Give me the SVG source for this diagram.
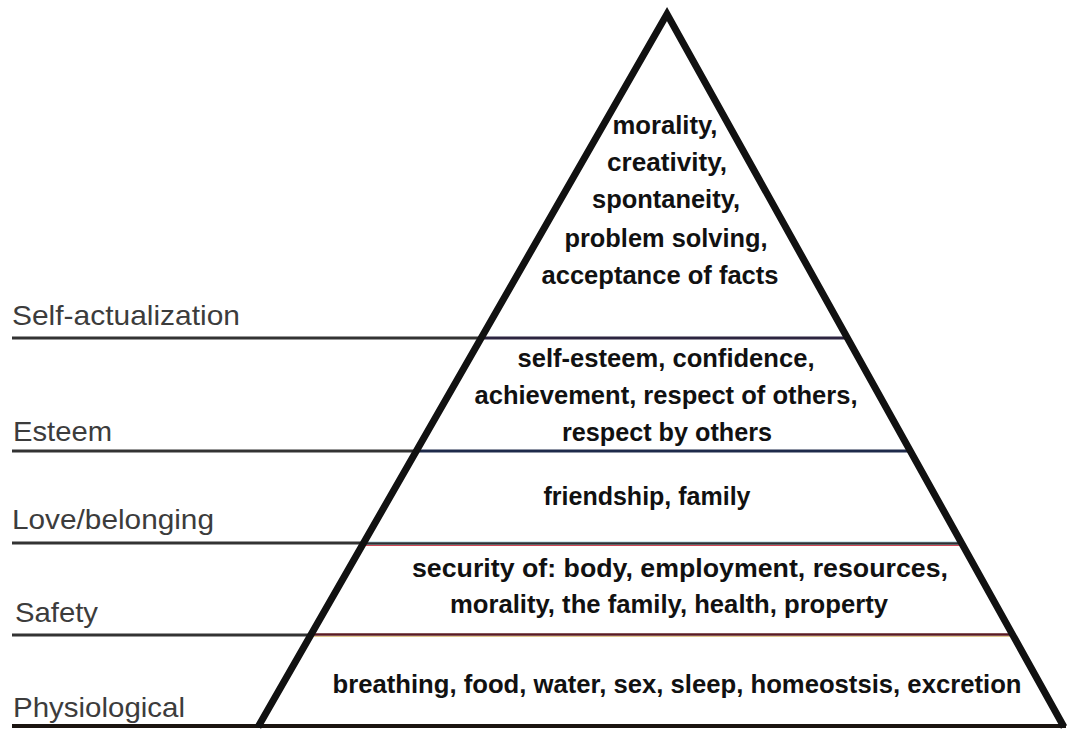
<svg xmlns="http://www.w3.org/2000/svg" width="1068" height="731" viewBox="0 0 1068 731">
<style>
.lbl{font-family:"Liberation Sans",Arial,sans-serif;font-size:28px;fill:#3c3c3c}
.in{font-family:"Liberation Sans",Arial,sans-serif;font-weight:bold;font-size:25px;fill:#111;text-anchor:middle}
.hl{stroke:#333;stroke-width:3;fill:none}
</style>
<rect width="1068" height="731" fill="#fff"/>
<g id="connectors">
<line class="hl" x1="12" y1="338" x2="482" y2="338"/>
<line class="hl" x1="12" y1="451" x2="417" y2="451"/>
<line class="hl" x1="12" y1="543" x2="364" y2="543"/>
<line class="hl" x1="12" y1="635" x2="312" y2="635"/>
<line x1="480" y1="338" x2="848" y2="338" stroke="#2c2440" stroke-width="3"/>
<line x1="415" y1="451" x2="911" y2="451" stroke="#1e2a4a" stroke-width="3"/>
<line x1="362" y1="542" x2="962" y2="542" stroke="#a8d0dc" stroke-width="1"/>
<line x1="362" y1="543.5" x2="962" y2="543.5" stroke="#2a2f33" stroke-width="2.5"/>
<line x1="362" y1="545.5" x2="962" y2="545.5" stroke="#d04858" stroke-width="1"/>
<line x1="310" y1="634.5" x2="1013" y2="634.5" stroke="#5a1a22" stroke-width="2.5"/>
<line x1="310" y1="636.5" x2="1013" y2="636.5" stroke="#e0c890" stroke-width="1"/>
<line x1="12" y1="726" x2="1066" y2="726" stroke="#1a1410" stroke-width="4"/>
<polyline points="258,727 667,14 1064,727" fill="none" stroke="#111" stroke-width="7" stroke-linejoin="miter" stroke-miterlimit="10"/>
</g>
<g id="self-actualization">
<text class="lbl" x="12" y="325" textLength="228" lengthAdjust="spacingAndGlyphs">Self-actualization</text>
<text class="in" x="665" y="134" textLength="105" lengthAdjust="spacingAndGlyphs">morality,</text>
<text class="in" x="667" y="171" textLength="120" lengthAdjust="spacingAndGlyphs">creativity,</text>
<text class="in" x="666" y="208" textLength="148" lengthAdjust="spacingAndGlyphs">spontaneity,</text>
<text class="in" x="666" y="247" textLength="203" lengthAdjust="spacingAndGlyphs">problem solving,</text>
<text class="in" x="660" y="284" textLength="237" lengthAdjust="spacingAndGlyphs">acceptance of facts</text>
</g>
<g id="esteem">
<text class="lbl" x="13" y="441" textLength="99" lengthAdjust="spacingAndGlyphs">Esteem</text>
<text class="in" x="666" y="367" textLength="297" lengthAdjust="spacingAndGlyphs">self-esteem, confidence,</text>
<text class="in" x="666" y="404" textLength="383" lengthAdjust="spacingAndGlyphs">achievement, respect of others,</text>
<text class="in" x="667" y="441" textLength="210" lengthAdjust="spacingAndGlyphs">respect by others</text>
</g>
<g id="love-belonging">
<text class="lbl" x="12" y="529" textLength="202" lengthAdjust="spacingAndGlyphs">Love/belonging</text>
<text class="in" x="647" y="505" textLength="207" lengthAdjust="spacingAndGlyphs">friendship, family</text>
</g>
<g id="safety">
<text class="lbl" x="15" y="622" textLength="83" lengthAdjust="spacingAndGlyphs">Safety</text>
<text class="in" x="680" y="577" textLength="536" lengthAdjust="spacingAndGlyphs">security of: body, employment, resources,</text>
<text class="in" x="669" y="613" textLength="438" lengthAdjust="spacingAndGlyphs">morality, the family, health, property</text>
</g>
<g id="physiological">
<text class="lbl" x="13" y="717" textLength="172" lengthAdjust="spacingAndGlyphs">Physiological</text>
<text class="in" x="677" y="693" textLength="689" lengthAdjust="spacingAndGlyphs">breathing, food, water, sex, sleep, homeostsis, excretion</text>
</g>
</svg>
